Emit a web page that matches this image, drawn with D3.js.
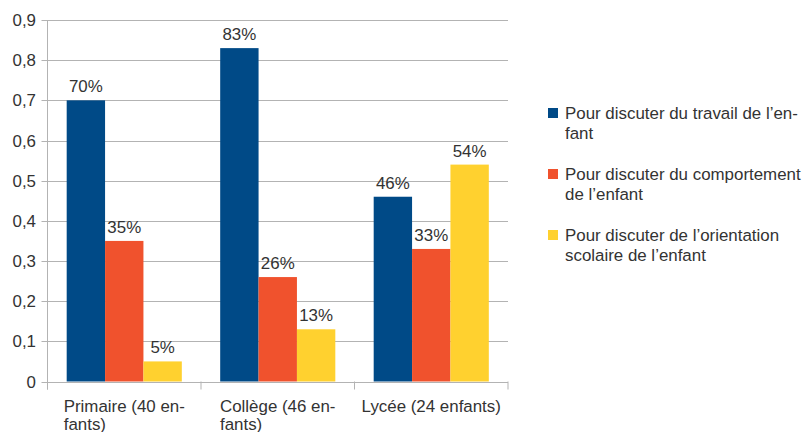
<!DOCTYPE html>
<html>
<head>
<meta charset="utf-8">
<script src="https://cdn.jsdelivr.net/npm/d3@7"></script>
<style>
  body { margin: 0; background: #fff; }
  text { font-family: "Liberation Sans", Arial, sans-serif; fill: #333; }
</style>
</head>
<body>
<svg id="chart" width="811" height="432"></svg>
<script>
// chart data
const categories = ["Primaire (40 enfants)", "Collège (46 enfants)", "Lycée (24 enfants)"];
const categoryLines = [["Primaire (40 en-", "fants)"], ["Collège (46 en-", "fants)"], ["Lycée (24 enfants)"]];
const seriesNames = ["travail", "comportement", "orientation"];
const legendLines = [
    ["Pour discuter du travail de l’en-", "fant"],
    ["Pour discuter du comportement", "de l’enfant"],
    ["Pour discuter de l’orientation", "scolaire de l’enfant"]
];
const travail = [0.70, 0.83, 0.46];
const comportement = [0.35, 0.26, 0.33];
const orientation = [0.05, 0.13, 0.54];
const yTicks = [0, 0.1, 0.2, 0.3, 0.4, 0.5, 0.6, 0.7, 0.8, 0.9];
const colors = ["#004a87", "#f0522d", "#ffd12f"];

const seriesValues = [travail, comportement, orientation];

let svg = d3.select("#chart");

let pxLeft = 47.5, pxRight = 508, pxTop = 20, pxBottom = 381.5;
let fontSize = "16.9px";

let scX = d3.scaleBand().domain(categories).range([pxLeft, pxRight]).paddingInner(0).paddingOuter(0);
let scSeries = d3.scaleBand().domain(seriesNames).range([0, scX.bandwidth()]).paddingOuter(0.5).paddingInner(0);
let scY = d3.scaleLinear().domain([0, 0.9]).range([pxBottom, pxTop]);

// grid lines
svg.append("g")
    .selectAll("line")
    .data(yTicks)
    .enter()
    .append("line")
    .attr("x1", pxLeft - 6)
    .attr("x2", pxRight)
    .attr("y1", (d) => Math.round(scY(d)) + 0.5)
    .attr("y2", (d) => Math.round(scY(d)) + 0.5)
    .attr("stroke", "#b3b3b3")
    .attr("stroke-width", 1);

// y labels
svg.append("g")
    .selectAll("text")
    .data(yTicks)
    .enter()
    .append("text")
    .attr("x", 36)
    .attr("y", (d) => scY(d) + 6)
    .attr("text-anchor", "end")
    .attr("font-size", fontSize)
    .text((d) => (d == 0 ? "0" : d3.format(".1f")(d).replace(".", ",")));

// bars
let groups = svg.append("g")
    .selectAll("g")
    .data(categories)
    .enter()
    .append("g")
    .attr("transform", (d) => "translate(" + scX(d) + ",0)");

groups.each(function (cat, ci) {
    let g = d3.select(this);
    seriesNames.forEach((s, si) => {
        let v = seriesValues[si][ci];
        g.append("rect")
            .attr("x", scSeries(s))
            .attr("y", scY(v))
            .attr("width", scSeries.bandwidth())
            .attr("height", scY(0) - scY(v))
            .attr("fill", colors[si]);
        g.append("text")
            .attr("x", scSeries(s) + scSeries.bandwidth() / 2)
            .attr("y", scY(v) - 8)
            .attr("text-anchor", "middle")
            .attr("font-size", fontSize)
            .text(Math.round(v * 100) + "%");
    });
});

// axes lines
svg.append("line")
    .attr("x1", pxLeft).attr("x2", pxLeft)
    .attr("y1", pxTop).attr("y2", pxBottom + 8)
    .attr("stroke", "#b3b3b3");
svg.append("line")
    .attr("x1", pxLeft).attr("x2", pxRight)
    .attr("y1", Math.round(pxBottom) + 0.5).attr("y2", Math.round(pxBottom) + 0.5)
    .attr("stroke", "#b3b3b3");

// category ticks
let bounds = categories.map((c) => scX(c)).concat([pxRight]);
svg.append("g")
    .selectAll("line")
    .data(bounds)
    .enter()
    .append("line")
    .attr("x1", (d) => d).attr("x2", (d) => d)
    .attr("y1", pxBottom).attr("y2", pxBottom + 8)
    .attr("stroke", "#b3b3b3");

// category labels: block centred, lines left-aligned
categories.forEach((c, i) => {
    let cx = scX(c) + scX.bandwidth() / 2;
    let t = svg.append("text")
        .attr("y", 412)
        .attr("font-size", fontSize);
    categoryLines[i].forEach((ln, li) => {
        t.append("tspan")
            .attr("dy", li == 0 ? 0 : 18)
            .text(ln);
    });
    let w = t.select("tspan").node().getComputedTextLength();
    t.selectAll("tspan").attr("x", cx - w / 2);
});

// legend
let legend = svg.append("g");
legendLines.forEach((lines, i) => {
    let y0 = 119 + i * 61;
    legend.append("rect")
        .attr("x", 548)
        .attr("y", y0 - 11)
        .attr("width", 10)
        .attr("height", 10)
        .attr("fill", colors[i]);
    let t = legend.append("text")
        .attr("x", 565)
        .attr("y", y0)
        .attr("font-size", fontSize);
    lines.forEach((ln, li) => {
        t.append("tspan")
            .attr("x", 565)
            .attr("dy", li == 0 ? 0 : 20)
            .text(ln);
    });
});
</script>
</body>
</html>
